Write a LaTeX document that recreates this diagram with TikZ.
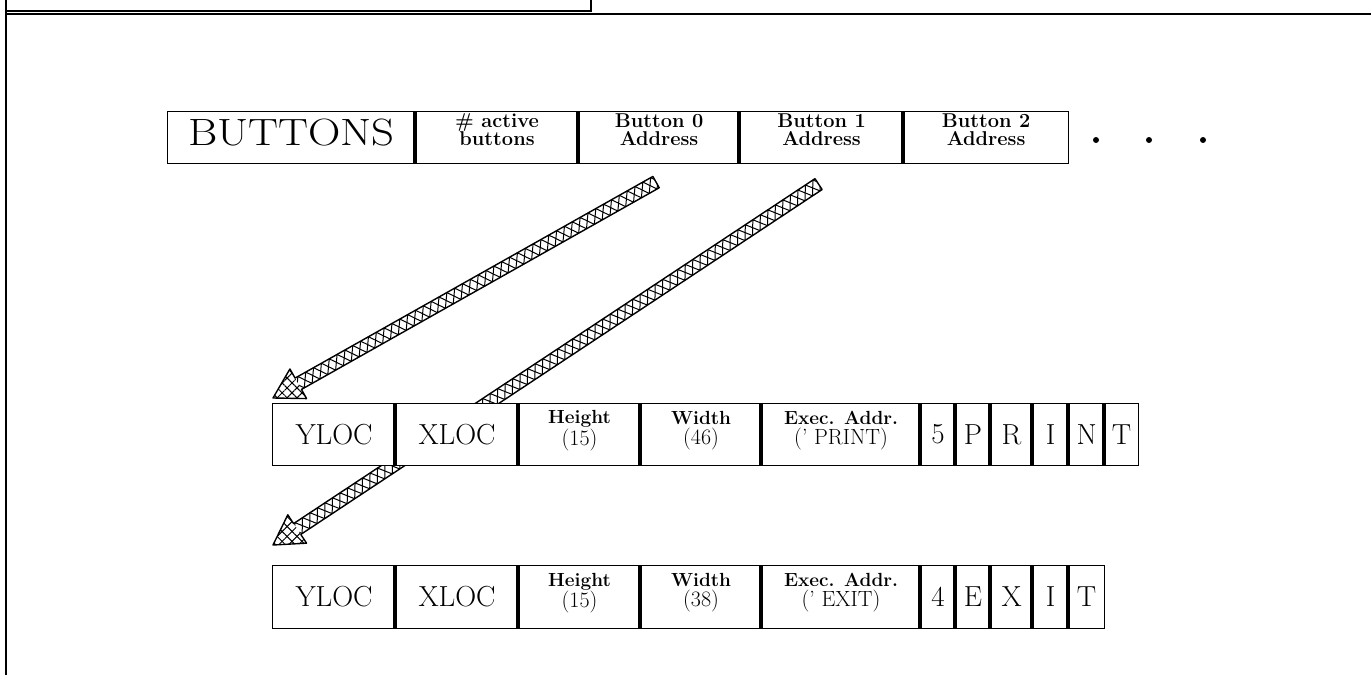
\documentclass[tikz,border=0pt]{standalone}
\usetikzlibrary{calc,decorations.pathmorphing,patterns.meta}
\newcommand{\bigfont}{\fontsize{38}{42}\selectfont}
\newcommand{\midfont}{\fontsize{29}{32}\selectfont}
\newcommand{\parfont}{\fontsize{22}{20}\selectfont}
\newcommand{\latticearrow}[2]{%
  \coordinate (hb) at ($(#2)!29pt!(#1)$);
  \coordinate (sa) at ($(#1)!6.5pt!90:(#2)$);
  \coordinate (sb) at ($(#1)!6.5pt!-90:(#2)$);
  \coordinate (ha) at ($(hb)!6.5pt!90:(#2)$);
  \coordinate (hc) at ($(hb)!6.5pt!-90:(#2)$);
  \coordinate (wa) at ($(hb)!17pt!90:(#2)$);
  \coordinate (wb) at ($(hb)!17pt!-90:(#2)$);
  \fill[white] (sa) -- (ha) -- (wa) -- (#2) -- (wb) -- (hc) -- (sb) -- cycle;
  \begin{scope}
    \clip (sa) -- (ha) -- (hc) -- (sb) -- cycle;
    \draw[lattice] ($(#1)!-2pt!(hb)$) -- ($(hb)!-6pt!(#1)$);
    \draw[lattice] ($(#1)!-11pt!(hb)$) -- ($(hb)!-6pt!(#1)$);
  \end{scope}
  \path[pattern={Lines[angle=45,distance=7pt,line width=1pt]}] (wa) -- (#2) -- (wb) -- cycle;
  \path[pattern={Lines[angle=-45,distance=7pt,line width=1pt]}] (wa) -- (#2) -- (wb) -- cycle;
  \draw[arrowline] (sa) -- (ha) -- (wa) -- (#2) -- (wb) -- (hc) -- (sb) -- cycle;
}
\begin{document}
\begin{tikzpicture}[x=1pt,y=-1pt,
  cell/.style={draw, line width=1.1pt, fill=white, inner sep=0pt, anchor=north west},
  bar/.style={line width=4.5pt, line cap=butt},
  frame/.style={line width=1.8pt},
  txt/.style={inner sep=0pt, align=center},
  lbl/.style={inner sep=0pt, align=center, font=\bfseries\fontsize{20}{18}\selectfont},
  lbltwo/.style={inner sep=0pt, align=center, font=\fontsize{19}{20}\selectfont},
  dot/.style={circle, fill=black, inner sep=0pt, minimum size=6pt},
  lattice/.style={line width=1pt, decorate, decoration={zigzag, segment length=18pt, amplitude=6.5pt}},
  arrowline/.style={line width=1.4pt, line join=round}
]
\useasboundingbox (0,0) rectangle (1371,675);

% frame
\draw[frame] (6,0) -- (6,675);
\draw[frame] (6,11) -- (591,11) -- (591,0);
\draw[frame] (6,14) -- (1371,14);

% ---------- top row ----------
\node[cell, minimum width=248, minimum height=52] (buttons) at (167,111) {};
\node[cell, minimum width=163, minimum height=52] (active) at (415,111) {};
\node[cell, minimum width=161, minimum height=52] (b0) at (578,111) {};
\node[cell, minimum width=164, minimum height=52] (b1) at (739,111) {};
\node[cell, minimum width=165, minimum height=52] (b2) at (903,111) {};
\foreach \c in {active,b0,b1,b2} \draw[bar] (\c.north west) -- (\c.south west);
\node[txt] (tbuttons) at ($(buttons.center)+(0,-5)$) {\bigfont\scalebox{1.18}[1]{BUTTONS}};
\node[lbl] (tactive) at ($(active.center)+(0,-8)$) {\# active\\buttons};
\node[lbl] (tb0) at ($(b0.center)+(0,-8)$) {Button 0\\Address};
\node[lbl] (tb1) at ($(b1.center)+(0,-8)$) {Button 1\\Address};
\node[lbl] (tb2) at ($(b2.center)+(0,-8)$) {Button 2\\Address};
\node[dot] (d1) at (1096,140) {};
\node[dot] (d2) at (1149,140) {};
\node[dot] (d3) at (1203,140) {};

% row anchors
\path (272,403) coordinate (r2) (272,565) coordinate (r3);

% arrows (drawn before the rows so that the rows cover them)
\coordinate (t1) at ($(b0.south)+(-3,18)$);
\coordinate (p1) at ($(r2)+(1,-5)$);
\coordinate (t2) at ($(b1.south)+(-3,20)$);
\coordinate (p2) at ($(r3)+(1,-20)$);
\latticearrow{t1}{p1}
\latticearrow{t2}{p2}

% ---------- row 2 ----------
\node[cell, minimum width=123, minimum height=62] (yloc1) at (272,403) {};
\node[cell, minimum width=123, minimum height=62] (xloc1) at (395,403) {};
\node[cell, minimum width=122, minimum height=62] (hgt1) at (518,403) {};
\node[cell, minimum width=121, minimum height=62] (wid1) at (640,403) {};
\node[cell, minimum width=159, minimum height=62] (exec1) at (761,403) {};
\node[cell, minimum width=35, minimum height=62] (c5) at (920,403) {};
\node[cell, minimum width=35, minimum height=62] (cp) at (955,403) {};
\node[cell, minimum width=42, minimum height=62] (cr) at (990,403) {};
\node[cell, minimum width=36, minimum height=62] (ci) at (1032,403) {};
\node[cell, minimum width=36, minimum height=62] (cn) at (1068,403) {};
\node[cell, minimum width=34, minimum height=62] (ct) at (1104,403) {};
\foreach \c in {xloc1,hgt1,wid1,exec1,c5,cp,cr,ci,cn,ct} \draw[bar] (\c.north west) -- (\c.south west);
\node[txt] (tyloc1) at (yloc1.center) {\midfont YLOC};
\node[txt] (txloc1) at (xloc1.center) {\midfont XLOC};
\node[lbltwo] (thgt1) at ($(hgt1.center)+(0,-4)$) {{\bfseries Height}\\{\parfont (15)}};
\node[lbltwo] (twid1) at ($(wid1.center)+(0,-4)$) {{\bfseries Width}\\{\parfont (46)}};
\node[lbltwo] (texec1) at ($(exec1.center)+(0,-4)$) {{\bfseries Exec. Addr.}\\{\parfont (' PRINT)}};
\node[txt] (t5) at (c5.center) {\midfont 5};
\node[txt] (tp) at (cp.center) {\midfont P};
\node[txt] (tr) at (cr.center) {\midfont R};
\node[txt] (ti) at (ci.center) {\midfont I};
\node[txt] (tn) at (cn.center) {\midfont N};
\node[txt] (tt) at (ct.center) {\midfont T};

% ---------- row 3 ----------
\node[cell, minimum width=123, minimum height=63] (yloc2) at (272,565) {};
\node[cell, minimum width=123, minimum height=63] (xloc2) at (395,565) {};
\node[cell, minimum width=122, minimum height=63] (hgt2) at (518,565) {};
\node[cell, minimum width=121, minimum height=63] (wid2) at (640,565) {};
\node[cell, minimum width=159, minimum height=63] (exec2) at (761,565) {};
\node[cell, minimum width=35, minimum height=63] (c4) at (920,565) {};
\node[cell, minimum width=35, minimum height=63] (ce) at (955,565) {};
\node[cell, minimum width=42, minimum height=63] (cx) at (990,565) {};
\node[cell, minimum width=36, minimum height=63] (cii) at (1032,565) {};
\node[cell, minimum width=36, minimum height=63] (ctt) at (1068,565) {};
\foreach \c in {xloc2,hgt2,wid2,exec2,c4,ce,cx,cii,ctt} \draw[bar] (\c.north west) -- (\c.south west);
\node[txt] (tyloc2) at (yloc2.center) {\midfont YLOC};
\node[txt] (txloc2) at (xloc2.center) {\midfont XLOC};
\node[lbltwo] (thgt2) at ($(hgt2.center)+(0,-4)$) {{\bfseries Height}\\{\parfont (15)}};
\node[lbltwo] (twid2) at ($(wid2.center)+(0,-4)$) {{\bfseries Width}\\{\parfont (38)}};
\node[lbltwo] (texec2) at ($(exec2.center)+(0,-4)$) {{\bfseries Exec. Addr.}\\{\parfont (' EXIT)}};
\node[txt] (t4) at (c4.center) {\midfont 4};
\node[txt] (te) at (ce.center) {\midfont E};
\node[txt] (tx) at (cx.center) {\midfont X};
\node[txt] (tii) at (cii.center) {\midfont I};
\node[txt] (ttt) at (ctt.center) {\midfont T};
\end{tikzpicture}
\end{document}
